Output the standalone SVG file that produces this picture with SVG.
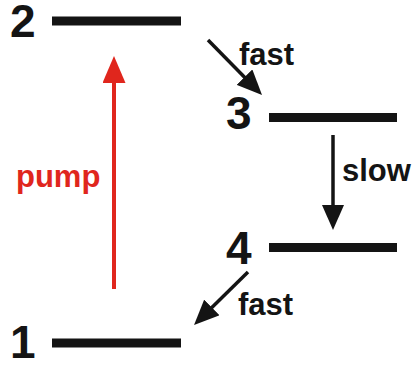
<svg xmlns="http://www.w3.org/2000/svg" width="413" height="365" viewBox="0 0 413 365">
  <defs>
    <style>
      .level { stroke: #141414; stroke-width: 9; }
      .num { font-family: "Liberation Sans", Arial, sans-serif; font-weight: bold; font-size: 46px; fill: #141414; }
      .lbl { font-family: "Liberation Sans", Arial, sans-serif; font-weight: bold; font-size: 31px; fill: #141414; }
      .pump { fill: #e0261d; }
      .decay { stroke: #141414; stroke-width: 3.5; fill: none; marker-end: url(#headBlack); }
      .excite { stroke: #e0261d; stroke-width: 4; fill: none; marker-end: url(#headRed); }
    </style>
    <marker id="headBlack" markerUnits="userSpaceOnUse" markerWidth="25" markerHeight="22" refX="5" refY="11" orient="auto" viewBox="0 0 25 22">
      <path d="M0,0 L25,11 L0,22 z" fill="#141414"/>
    </marker>
    <marker id="headRed" markerUnits="userSpaceOnUse" markerWidth="27" markerHeight="23" refX="5" refY="11.5" orient="auto" viewBox="0 0 27 23">
      <path d="M0,0 L27,11.5 L0,23 z" fill="#e0261d"/>
    </marker>
  </defs>

  <!-- energy levels with their numbers -->
  <g id="level-2">
    <line class="level" x1="52" y1="21" x2="181" y2="21"/>
    <text class="num" x="10" y="37">2</text>
  </g>
  <g id="level-3">
    <line class="level" x1="269" y1="117.5" x2="397" y2="117.5"/>
    <text class="num" x="226" y="129">3</text>
  </g>
  <g id="level-4">
    <line class="level" x1="269" y1="247.5" x2="397" y2="247.5"/>
    <text class="num" x="226" y="264">4</text>
  </g>
  <g id="level-1">
    <line class="level" x1="52" y1="343" x2="181" y2="343"/>
    <text class="num" x="10" y="358">1</text>
  </g>

  <!-- transitions -->
  <g id="connectors">
    <line class="excite" x1="114" y1="289" x2="114" y2="78"/>
    <line class="decay" x1="208" y1="40" x2="248" y2="80.7"/>
    <line class="decay" x1="333" y1="135" x2="333" y2="210"/>
    <line class="decay" x1="248" y1="272" x2="208.3" y2="311"/>
  </g>

  <g id="labels">
    <text class="lbl pump" x="16" y="187">pump</text>
    <text class="lbl" x="239" y="65">fast</text>
    <text class="lbl" x="342" y="181">slow</text>
    <text class="lbl" x="238" y="315">fast</text>
  </g>
</svg>
